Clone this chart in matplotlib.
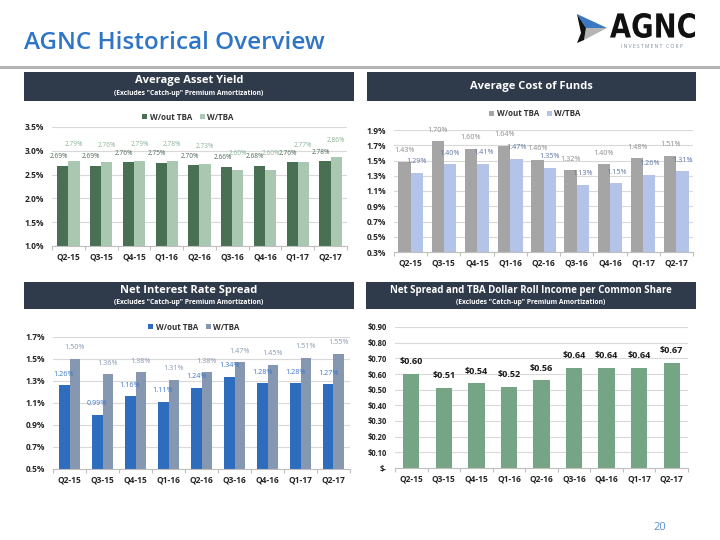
import matplotlib
matplotlib.use("Agg")
import matplotlib.pyplot as plt
from matplotlib.patches import Rectangle, Polygon, PathPatch
from matplotlib.textpath import TextPath
from matplotlib.font_manager import FontProperties
from matplotlib.transforms import Affine2D, IdentityTransform
import numpy as np

plt.rcParams['font.family'] = ['Open Sans', 'DejaVu Sans']

quarters = ["Q2-15", "Q3-15", "Q4-15", "Q1-16", "Q2-16", "Q3-16", "Q4-16", "Q1-17", "Q2-17"]

# Average Asset Yield (%)
yield_wout = [2.69, 2.69, 2.76, 2.75, 2.70, 2.66, 2.68, 2.76, 2.78]
yield_wtba = [2.79, 2.76, 2.79, 2.78, 2.73, 2.60, 2.60, 2.77, 2.86]
yield_ticks = [1.0, 1.5, 2.0, 2.5, 3.0, 3.5]
yield_ticklabels = ["1.0%", "1.5%", "2.0%", "2.5%", "3.0%", "3.5%"]

# Average Cost of Funds (%)
cof_wout = [1.43, 1.70, 1.60, 1.64, 1.46, 1.32, 1.40, 1.48, 1.51]
cof_wtba = [1.29, 1.40, 1.41, 1.47, 1.35, 1.13, 1.15, 1.26, 1.31]
cof_ticks = [0.25, 0.45, 0.65, 0.85, 1.05, 1.25, 1.45, 1.65, 1.85]
cof_ticklabels = ["0.3%", "0.5%", "0.7%", "0.9%", "1.1%", "1.3%", "1.5%", "1.7%", "1.9%"]

# Net Interest Rate Spread (%)
nis_wout = [1.26, 0.99, 1.16, 1.11, 1.24, 1.34, 1.28, 1.28, 1.27]
nis_wtba = [1.50, 1.36, 1.38, 1.31, 1.38, 1.47, 1.45, 1.51, 1.55]
nis_ticks = [0.5, 0.7, 0.9, 1.1, 1.3, 1.5, 1.7]
nis_ticklabels = ["0.5%", "0.7%", "0.9%", "1.1%", "1.3%", "1.5%", "1.7%"]

# Net Spread and TBA Dollar Roll Income per Common Share ($)
income = [0.60, 0.51, 0.54, 0.52, 0.56, 0.64, 0.64, 0.64, 0.67]
income_ticks = [0.0, 0.1, 0.2, 0.3, 0.4, 0.5, 0.6, 0.7, 0.8, 0.9]
income_ticklabels = ["$-", "$0.10", "$0.20", "$0.30", "$0.40", "$0.50", "$0.60", "$0.70", "$0.80", "$0.90"]

W, H = 720, 540
fig = plt.figure(figsize=(7.2, 5.4), dpi=100)
fig.patch.set_facecolor("white")


def fx(x):
    return x / W


def fy(y):
    return 1 - y / H


def rect(x0, y0, x1, y1):
    return [fx(x0), fy(y1), fx(x1) - fx(x0), fy(y0) - fy(y1)]


# Header
fig.text(fx(24), fy(43), "AGNC Historical Overview", fontsize=17.5, fontweight="semibold",
         color="#2e74c7", va="center", ha="left")
fig.add_artist(plt.Line2D([0, 1], [fy(67), fy(67)], color="#b3b3b3", lw=2.2, transform=fig.transFigure))

# Logo
tri_blue = Polygon([[fx(577), fy(14)], [fx(607), fy(28)], [fx(586), fy(28)]], closed=True,
                   facecolor="#3b78c4", edgecolor="none", transform=fig.transFigure)
tri_gray = Polygon([[fx(586), fy(28)], [fx(607), fy(28)], [fx(584), fy(40)]], closed=True,
                   facecolor="#b5b5b5", edgecolor="none", transform=fig.transFigure)
tri_black = Polygon([[fx(577), fy(14)], [fx(586), fy(28)], [fx(584), fy(40)], [fx(577), fy(43)],
                     [fx(581), fy(33)]], closed=True,
                    facecolor="#111111", edgecolor="none", transform=fig.transFigure)
for p in (tri_blue, tri_gray, tri_black):
    fig.add_artist(p)

tp = TextPath((0, 0), "AGNC", size=1, prop=FontProperties(family="DejaVu Sans", weight="bold"))
ext = tp.get_extents()
bx0, bx1, by0, by1 = 610, 695, 13, 38
sx = (bx1 - bx0) / ext.width
sy = (by1 - by0) / ext.height
logo_tr = Affine2D().translate(-ext.x0, -ext.y0).scale(sx, sy).translate(bx0, H - by1)
fig.add_artist(PathPatch(tp, facecolor="#111111", edgecolor="none",
                         transform=logo_tr + IdentityTransform()))
fig.text(fx(652), fy(46), "I N V E S T M E N T   C O R P", fontsize=3.6, color="#7f8c9a",
         ha="center", va="center")

fig.text(fx(660), fy(528), "20", fontsize=8, color="#5b8ed6", ha="center", va="center")

HEADER = "#2f3a4b"


def header(x0, y0, x1, y1, title, sub=None, tsize=8.0):
    fig.add_artist(Rectangle((fx(x0), fy(y1)), fx(x1) - fx(x0), fy(y0) - fy(y1),
                             transform=fig.transFigure, facecolor=HEADER, edgecolor="none"))
    xc = (x0 + x1) / 2
    if sub:
        fig.text(fx(xc), fy(y0 + 9), title, fontsize=tsize, fontweight="bold", color="white",
                 ha="center", va="center")
        fig.text(fx(xc), fy(y0 + 21), sub, fontsize=4.9, fontweight="bold", color="white",
                 ha="center", va="center")
    else:
        fig.text(fx(xc), fy((y0 + y1) / 2), title, fontsize=tsize, fontweight="bold", color="white",
                 ha="center", va="center")


SUB = '(Excludes "Catch-up" Premium Amortization)'
header(24, 72, 354, 101, "Average Asset Yield", SUB)
header(367, 72, 696, 101, "Average Cost of Funds")
header(24, 282, 354, 309, "Net Interest Rate Spread", SUB)
header(366, 282, 696, 309, "Net Spread and TBA Dollar Roll Income per Common Share", SUB, tsize=7.0)


def style_axes(ax, ticks, ticklabels, ylim):
    ax.set_ylim(*ylim)
    ax.set_xlim(-0.5, len(quarters) - 0.5)
    ax.set_yticks(ticks)
    ax.set_yticklabels(ticklabels)
    ax.set_xticks(np.arange(len(quarters)))
    ax.set_xticklabels(quarters)
    ax.set_xticks(np.arange(len(quarters) + 1) - 0.5, minor=True)
    ax.tick_params(axis="x", which="major", length=0, pad=5, labelsize=6, labelcolor="#262626")
    ax.tick_params(axis="x", which="minor", length=3, color="#bfbfbf", width=0.8)
    ax.tick_params(axis="y", length=0, pad=6, labelsize=6, labelcolor="#262626")
    for lab in ax.get_xticklabels() + ax.get_yticklabels():
        lab.set_fontweight("bold")
    for s in ("top", "right", "left"):
        ax.spines[s].set_visible(False)
    ax.spines["bottom"].set_color("#bfbfbf")
    ax.spines["bottom"].set_linewidth(0.8)
    ax.grid(axis="y", color="#d9d9d9", lw=0.8)
    ax.set_axisbelow(True)


def two_series(axrect, a, b, ca, cb, ta, tb, ticks, ticklabels, ylim, width, legend_y, legend_x,
               offs_a=(0, 4), offs_b=(0, 4), lsize=5.2):
    ax = fig.add_axes(axrect)
    x = np.arange(len(quarters))
    ba = ax.bar(x - width / 2, a, width, color=ca, label="W/out TBA")
    bb = ax.bar(x + width / 2, b, width, color=cb, label="W/TBA")
    style_axes(ax, ticks, ticklabels, ylim)
    for xi, v in zip(x, a):
        ax.annotate(f"{v:.2f}%", (xi - width / 2, v), xytext=offs_a, textcoords="offset points",
                    ha="center", va="bottom", fontsize=lsize, color=ta, annotation_clip=False)
    for xi, v in zip(x, b):
        ax.annotate(f"{v:.2f}%", (xi + width / 2, v), xytext=offs_b, textcoords="offset points",
                    ha="center", va="bottom", fontsize=lsize, color=tb, annotation_clip=False)
    leg = fig.legend(handles=[ba, bb], labels=["W/out TBA", "W/TBA"], loc="center",
                     bbox_to_anchor=(fx(legend_x), fy(legend_y)), ncol=2, frameon=False,
                     fontsize=5.8, handlelength=0.6, handleheight=0.6, handletextpad=0.3,
                     columnspacing=1.0)
    for t in leg.get_texts():
        t.set_color("#333333")
        t.set_fontweight("bold")
    return ax


# Panel 1
two_series(rect(52, 127, 347, 246), yield_wout, yield_wtba, "#4a7054", "#a9c7b1",
           "#4d6a57", "#8bb597", yield_ticks, yield_ticklabels, (1.0, 3.5), 0.34, 117, 188,
           offs_a=(-3, 4), offs_b=(0, 9.5), lsize=4.7)

# Panel 2
two_series(rect(394, 130, 693, 252), cof_wout, cof_wtba, "#a5a5a5", "#b4c4e8",
           "#8c8c8c", "#5f75a3", cof_ticks, cof_ticklabels, (0.25, 1.85), 0.37, 114, 535,
           offs_a=(0, 5.5), offs_b=(0, 5.5))

# Panel 3
two_series(rect(53, 337, 350, 469), nis_wout, nis_wtba, "#2e6dbd", "#8597b1",
           "#3b78c8", "#8a9ab3", nis_ticks, nis_ticklabels, (0.5, 1.7), 0.33, 327, 194,
           offs_a=(0, 5.5), offs_b=(0, 5.5))

# Panel 4
ax4 = fig.add_axes(rect(395, 327, 688, 468))
x = np.arange(len(quarters))
ax4.bar(x, income, 0.5, color="#76a585")
style_axes(ax4, income_ticks, income_ticklabels, (0, 0.9))
ax4.tick_params(axis="y", labelsize=5.5)
for xi, v in zip(x, income):
    ax4.annotate(f"${v:.2f}", (xi, v), xytext=(0, 5.5), textcoords="offset points",
                 ha="center", va="bottom", fontsize=6.5, fontweight="bold", color="#1a1a1a",
                 annotation_clip=False)

fig.savefig("out.png", dpi=100)
